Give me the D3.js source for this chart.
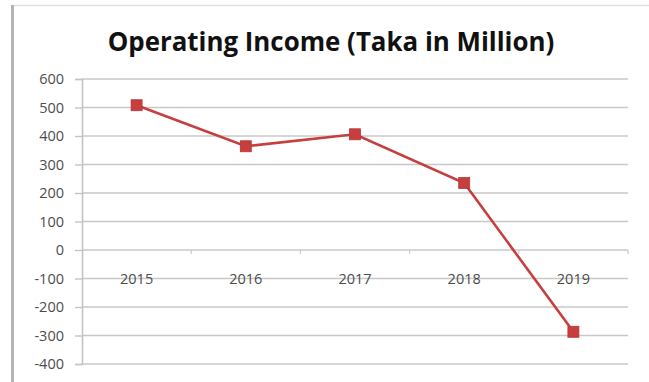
<!DOCTYPE html>
<html>
<head>
<meta charset="utf-8">
<script src="https://cdn.jsdelivr.net/npm/d3@7"></script>
<style>
  html, body { margin: 0; padding: 0; background: #fff; }
  svg { display: block; }
</style>
</head>
<body>
<svg id="chart" width="649" height="382"></svg>
<script>
// Operating income by year (Taka in million)
const years = ["2015", "2016", "2017", "2018", "2019"];
const income = [508, 364, 406, 235, -287];
const yTicks = [600, 500, 400, 300, 200, 100, 0, -100, -200, -300, -400];
const title = "Operating Income (Taka in Million)";

const W = 649, H = 382;
const margin = { left: 82, right: 21, top: 79, bottom: 18 };
const font = "'Open Sans', 'Noto Sans', 'Liberation Sans', sans-serif";
const labelSize = 14.5;

const svg = d3.select("#chart");

// outer chart frame
svg.append("line").attr("x1", 12).attr("x2", W).attr("y1", 5.5).attr("y2", 5.5)
  .attr("stroke", "#e2e2e2").attr("stroke-width", 1.5);
svg.append("line").attr("x1", 12.5).attr("x2", 12.5).attr("y1", 5).attr("y2", H)
  .attr("stroke", "#b4b4b4").attr("stroke-width", 3);

const x = d3.scaleBand().domain(years).range([margin.left, W - margin.right]);
const y = d3.scaleLinear().domain([-400, 600]).range([H - margin.bottom, margin.top]);

// horizontal gridlines
svg.append("g").selectAll("line").data(yTicks).join("line")
  .attr("x1", margin.left).attr("x2", W - margin.right)
  .attr("y1", d => y(d)).attr("y2", d => y(d))
  .attr("stroke", "#c8c8c8").attr("stroke-width", 1.6);

// value axis (plain hyphen for negatives)
const yAxis = svg.append("g")
  .attr("transform", `translate(${margin.left},0)`)
  .call(d3.axisLeft(y).tickValues(yTicks).tickSize(7).tickPadding(11).tickFormat(d => String(d)));
yAxis.select(".domain").attr("stroke", "#c4c4c4").attr("stroke-width", 1.6);
yAxis.selectAll(".tick line").attr("stroke", "#c4c4c4").attr("stroke-width", 1.4);
yAxis.selectAll("text").attr("fill", "#4d4d4d").attr("font-family", font)
  .attr("font-size", labelSize).attr("dy", "0.34em");

// category axis crossing at zero
const xAxis = svg.append("g")
  .attr("transform", `translate(0,${y(0)})`)
  .call(d3.axisBottom(x).tickSize(0).tickPadding(0));
xAxis.select(".domain").remove();
xAxis.selectAll("text").attr("fill", "#4d4d4d").attr("font-family", font)
  .attr("font-size", labelSize).attr("dy", null).attr("y", 34);

// category boundary ticks
const bounds = years.map(d => x(d) + x.bandwidth());
svg.append("g").selectAll("line").data(bounds).join("line")
  .attr("x1", d => d).attr("x2", d => d)
  .attr("y1", y(0)).attr("y2", y(0) + 4)
  .attr("stroke", "#cbcbcb").attr("stroke-width", 1.2);

// series line
const cx = d => x(d) + x.bandwidth() / 2;
const line = d3.line().x((d, i) => cx(years[i])).y(d => y(d));
svg.append("path").datum(income)
  .attr("d", line)
  .attr("fill", "none").attr("stroke", "#c63e3d").attr("stroke-width", 2.6);

// square markers
const m = 11;
svg.append("g").selectAll("rect").data(income).join("rect")
  .attr("x", (d, i) => cx(years[i]) - m / 2)
  .attr("y", d => y(d) - m / 2)
  .attr("width", m).attr("height", m)
  .attr("fill", "#c63e3d").attr("stroke", "#b83836").attr("stroke-width", 0.8);

// title
const t = svg.append("text")
  .attr("x", 331).attr("y", 51)
  .attr("text-anchor", "middle")
  .attr("font-family", font).attr("font-weight", "bold")
  .attr("font-size", 22).attr("fill", "#111")
  .text(title);
const tw = t.node().getComputedTextLength();
t.attr("font-size", 22 * 447 / tw);
</script>
</body>
</html>
